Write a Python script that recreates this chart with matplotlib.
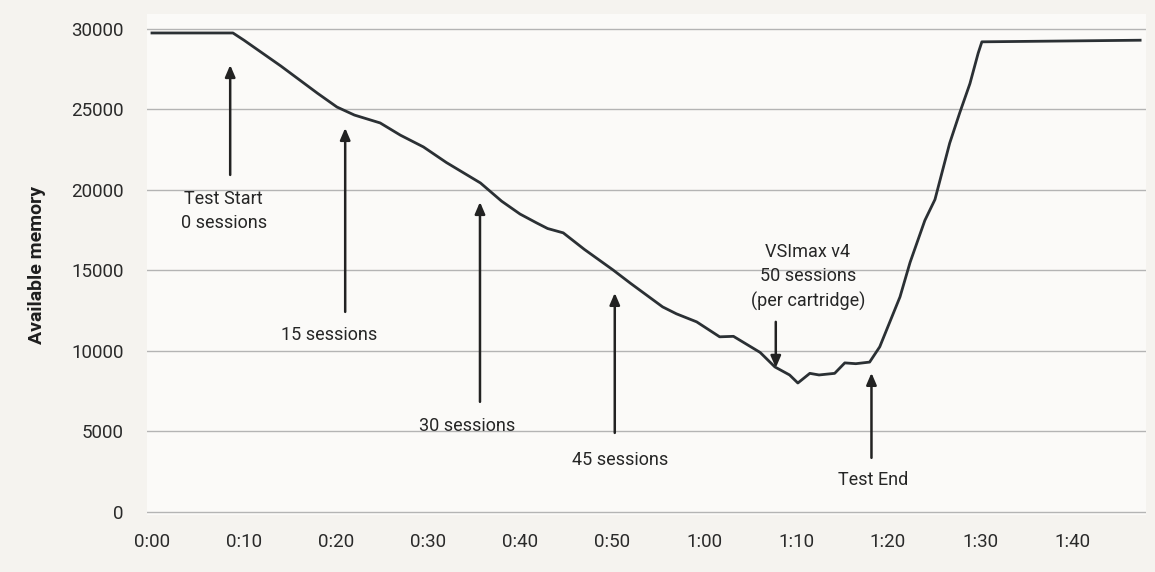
import numpy as np
import matplotlib
matplotlib.use("Agg")
import matplotlib.pyplot as plt

plt.rcParams['font.family'] = ['Roboto', 'DejaVu Sans']

# minutes since start / available memory
minutes = [0, 8.8, 10, 12, 14, 16, 18, 20.1, 22, 24.8, 27, 29.5, 32, 35.7, 38, 40,
           41.8, 43, 44.7, 47, 50.1, 52, 55.5, 57, 59.2, 61.7, 63.2, 66.1, 67.7,
           69.3, 70.2, 71.5, 72.5, 74.2, 75.3, 76.5, 78.0, 79.1, 81.3, 82.4, 84.0,
           85.1, 86.7, 87.8, 88.9, 89.8, 90.2, 107.4]
memory = [29750, 29750, 29300, 28500, 27700, 26850, 26000, 25150, 24650, 24160,
          23400, 22670, 21700, 20430, 19300, 18500, 17950, 17600, 17330, 16300,
          15030, 14200, 12730, 12300, 11800, 10870, 10900, 9900, 9000, 8500, 8000,
          8600, 8500, 8600, 9250, 9200, 9300, 10250, 13350, 15500, 18100, 19400,
          22900, 24800, 26600, 28500, 29200, 29300]

xticks = [0, 10, 20, 30, 40, 50, 60, 70, 80, 90, 100]
xtick_labels = ['0:00', '0:10', '0:20', '0:30', '0:40', '0:50',
                '1:00', '1:10', '1:20', '1:30', '1:40']
yticks = [0, 5000, 10000, 15000, 20000, 25000, 30000]

# label, text position, arrow tail, arrow head
notes = [
    ('Test Start\n0 sessions', (7.8, 18700), (8.5, 20930), (8.5, 27760)),
    ('15 sessions', (19.3, 11000), (21.0, 12420), (21.0, 23850)),
    ('30 sessions', (34.2, 5340), (35.65, 6830), (35.65, 19250)),
    ('45 sessions', (50.9, 3230), (50.3, 4900), (50.3, 13600)),
    ('VSImax v4\n50 sessions\n(per cartridge)', (71.3, 14600), (67.8, 11800), (67.8, 8940)),
    ('Test End', (78.4, 1990), (78.2, 3350), (78.2, 8630)),
]

fig = plt.figure(figsize=(11.55, 5.72), dpi=100, facecolor='#f5f3ef')
ax = fig.add_axes([0.1276, 0.0997, 0.8643, 0.875])
ax.set_facecolor('#fbfaf8')

ax.plot(minutes, memory, color='#2b3034', lw=2)

ax.set_xlim(-0.5, 108)
ax.set_ylim(-200, 30900)
ax.set_xticks(xticks)
ax.set_xticklabels(xtick_labels)
ax.set_yticks(yticks)
ax.grid(axis='y', color='#b4b4b4', lw=1)
ax.set_axisbelow(True)
for s in ax.spines.values():
    s.set_visible(False)
ax.tick_params(length=0, labelsize=13.5, colors='#2a2a2a')
ax.tick_params(axis='y', pad=17)
ax.tick_params(axis='x', pad=13)
ax.set_ylabel('Available memory', fontsize=14, fontweight='bold', color='#1e1e1e', labelpad=18)

for label, txt, tail, head in notes:
    ax.annotate('', xy=head, xytext=tail,
                arrowprops=dict(arrowstyle='-|>,head_length=0.7,head_width=0.3',
                                color='#222222', lw=1.8, shrinkA=0, shrinkB=0))
    ax.text(txt[0], txt[1], label, ha='center', va='center', fontsize=13,
            color='#262626', linespacing=1.45)

plt.savefig('out.png', dpi=100, facecolor=fig.get_facecolor())
